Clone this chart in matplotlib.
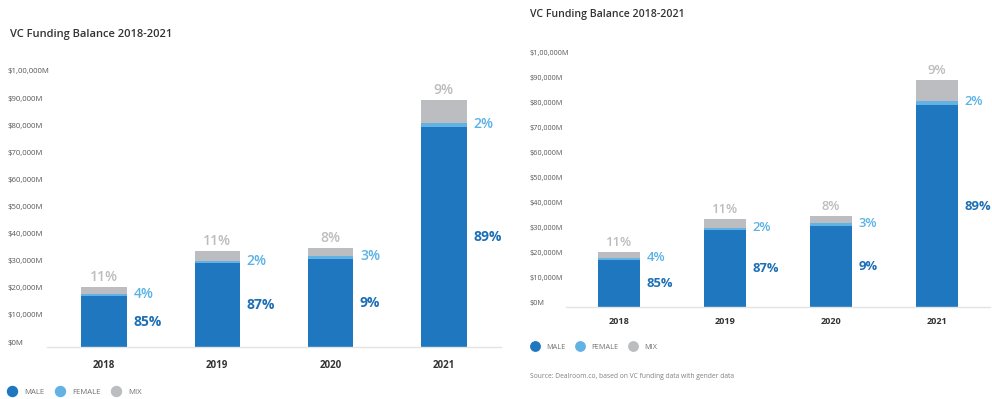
import matplotlib
matplotlib.use("Agg")
import matplotlib.pyplot as plt
from matplotlib.lines import Line2D
from matplotlib import transforms

plt.rcParams['font.family'] = ['Open Sans', 'DejaVu Sans']

# VC funding by founder gender, in $M
years = ['2018', '2019', '2020', '2021']
male = [18700, 30900, 32500, 81000]
female = [880, 710, 1100, 1820]
mix = [2420, 3900, 2900, 8200]

male_labels = ['85%', '87%', '9%', '89%']
female_labels = ['4%', '2%', '3%', '2%']
mix_labels = ['11%', '11%', '8%', '9%']

ytick_values = [0, 10000, 20000, 30000, 40000, 50000, 60000, 70000, 80000, 90000, 100000]
ytick_labels = ['$0M', '$10,000M', '$20,000M', '$30,000M', '$40,000M', '$50,000M',
                '$60,000M', '$70,000M', '$80,000M', '$90,000M', '$1,00,000M']
series_names = ['MALE', 'FEMALE', 'MIX']

TITLE = 'VC Funding Balance 2018-2021'
SOURCE = 'Source: Dealroom.co, based on VC funding data with gender data'

C_MALE = '#1f77bf'
C_FEMALE = '#62b3e3'
C_MIX = '#bcbdc0'
L_MALE = '#1d6fb6'
L_FEMALE = '#5bb2e6'
L_MIX = '#bdbdbf'

W, H = 992, 399
fig = plt.figure(figsize=(W / 100, H / 100), dpi=100)
fig.patch.set_facecolor('white')


def px_axes(left, top, right, bottom):
    return fig.add_axes([left / W, 1 - bottom / H, (right - left) / W, (bottom - top) / H])


def draw_panel(rect, s, ylab_x, title_xy, xtick_pad, legend_xy, source_xy=None):
    ax = px_axes(*rect)
    ax.set_facecolor('none')
    xs = list(range(len(years)))
    width = 0.4
    stack2 = [m + f for m, f in zip(male, female)]
    ax.bar(xs, male, width=width, color=C_MALE, zorder=2)
    ax.bar(xs, female, width=width, bottom=male, color=C_FEMALE, zorder=2)
    ax.bar(xs, mix, width=width, bottom=stack2, color=C_MIX, zorder=2)
    ax.set_xlim(-0.5, 3.5)
    ax.set_ylim(0, 100000)

    for side in ['top', 'right', 'left']:
        ax.spines[side].set_visible(False)
    ax.spines['bottom'].set_color('#e4e4e4')
    ax.spines['bottom'].set_linewidth(1.0)

    ax.set_yticks([])
    ax.set_xticks(xs, years, fontsize=7 * s, fontweight='bold', color='#333333')
    ax.tick_params(axis='x', length=0, pad=xtick_pad)

    # value axis labels, left aligned in the margin
    ytrans = transforms.offset_copy(ax.get_yaxis_transform(), fig=fig, y=4, units='dots')
    xa = (ylab_x - rect[0]) / (rect[2] - rect[0])
    for v, lab in zip(ytick_values, ytick_labels):
        ax.text(xa, v, lab, transform=ytrans, ha='left', va='center',
                fontsize=5.6 * s, color='#585858')

    # share labels
    for i in xs:
        top = male[i] + female[i] + mix[i]
        ax.annotate(mix_labels[i], xy=(i, top), xytext=(0, 7.2 * s),
                    textcoords='offset points', ha='center', va='center',
                    fontsize=10 * s, fontweight='semibold', color=L_MIX)
        ax.annotate(female_labels[i], xy=(i + width / 2, male[i] + female[i] / 2),
                    xytext=(4.8 * s, 1), textcoords='offset points', ha='left', va='center',
                    fontsize=10 * s, fontweight='semibold', color=L_FEMALE)
        ax.annotate(male_labels[i], xy=(i + width / 2, male[i] / 2),
                    xytext=(4.8 * s, 0), textcoords='offset points', ha='left', va='center',
                    fontsize=10 * s, fontweight='bold', color=L_MALE)

    fig.text(title_xy[0] / W, 1 - title_xy[1] / H, TITLE, ha='left', va='center',
             fontsize=8 * s, fontweight='semibold', color='#333333')

    handles = [Line2D([], [], marker='o', ls='none', markersize=7.2 * s,
                      markerfacecolor=c, markeredgecolor=c)
               for c in (C_MALE, C_FEMALE, C_MIX)]
    fig.legend(handles, series_names, loc='center left',
               bbox_to_anchor=(legend_xy[0] / W, 1 - legend_xy[1] / H),
               ncol=3, frameon=False, fontsize=5.6 * s, handlelength=1.2,
               handletextpad=0.98, columnspacing=1.37, borderpad=0, borderaxespad=0,
               labelcolor='#707070')

    if source_xy is not None:
        fig.text(source_xy[0] / W, 1 - source_xy[1] / H, SOURCE, ha='left', va='center',
                 fontsize=5.2 * s, color='#808080')
    return ax


draw_panel((47.3, 76, 500.5, 347), 1.0, 8, (10, 35), 9, (7.4, 392))
draw_panel((566, 58, 990, 307), 0.94, 530, (530, 15), 7.5, (530.5, 347), (530, 377))

fig.savefig('out.png', dpi=100, facecolor='white')
